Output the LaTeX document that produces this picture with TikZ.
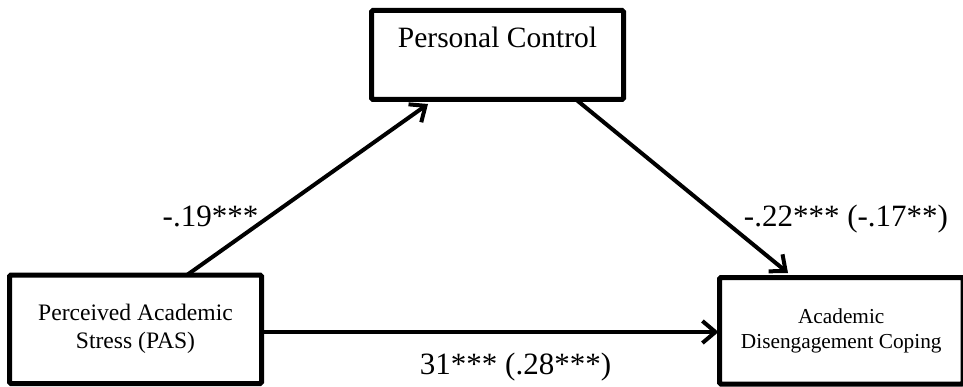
\documentclass[tikz,border=0pt]{standalone}
\usepackage{fontspec}
\setmainfont{Liberation Serif}
\usetikzlibrary{arrows.meta,calc}
\begin{document}
\begin{tikzpicture}[x=1pt,y=-1pt,
  box/.style={draw, line width=5pt, rounded corners=1.5pt, inner sep=0pt, outer sep=0pt, align=center},
  link/.style={line width=4pt, -{Straight Barb[length=13pt,width=22pt]}},
  lab/.style={font=\fontsize{31}{36}\selectfont, anchor=base, inner sep=0pt}]
\useasboundingbox (0,0) rectangle (963,387);
\node[box, minimum width=252pt, minimum height=89pt, text height=37.5pt, text depth=51.5pt,
      font=\fontsize{29.5}{34}\selectfont] (pc) at (497.5,55) {Personal Control};
\node[box, minimum width=252pt, minimum height=108.5pt,
      font=\fontsize{23.6}{28}\selectfont] (pas) at (135.5,329.25) {Perceived Academic\\Stress (PAS)};
\node[box, minimum width=243.5pt, minimum height=106.5pt,
      font=\fontsize{21.3}{25.6}\selectfont] (adc) at (841.25,330.75) {Academic\\Disengagement Coping};
\draw[link] ($(pas.north west)+(177.5,0)$) -- ($(pc.south west)+(56.5,4.5)$);
\draw[link] ($(pc.south west)+(204.5,0)$) -- ($(adc.north west)+(68.5,-4.5)$);
\draw[link] ($(pas.east)+(0,2.75)$) -- ($(adc.west)+(-1,1.25)$);
\node[lab] (l1) at (210.5,226.5) {-.19***};
\node[lab] (l2) at (846,226.7) {-.22*** (-.17**)};
\node[lab] (l3) at (515.5,374) {31*** (.28***)};
\end{tikzpicture}
\end{document}
